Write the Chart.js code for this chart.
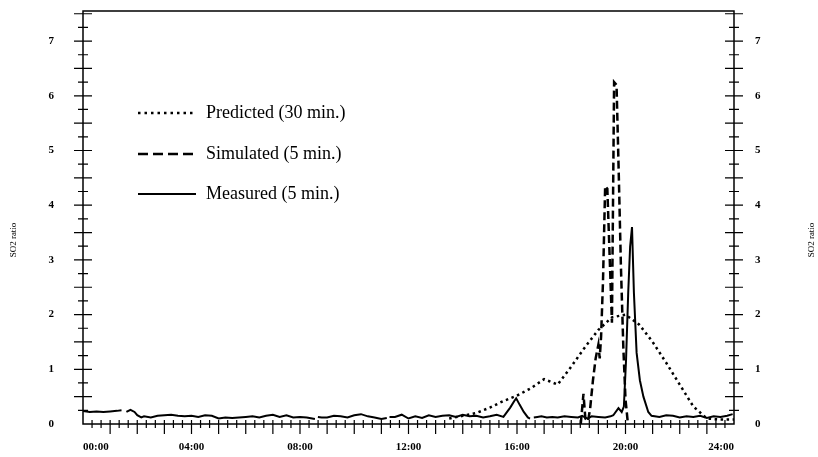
<!DOCTYPE html>
<html>
<head>
<meta charset="utf-8">
<script src="https://cdn.jsdelivr.net/npm/chart.js@4"></script>
<style>
  html, body { margin: 0; padding: 0; background: #fff; }
</style>
</head>
<body>
<canvas id="myChart" width="818" height="457"></canvas>
<script>
const xTickHours = [0, 4, 8, 12, 16, 20, 24];
const yTickValues = [0, 1, 2, 3, 4, 5, 6, 7];

const predictedHours = [13.5, 14, 14.5, 15, 15.5, 16, 16.5, 17, 17.5, 18, 18.5, 19, 19.5, 20, 20.5, 21, 21.5, 22, 22.5, 23, 23.5, 24];
const predictedRatio = [0.1, 0.15, 0.2, 0.3, 0.42, 0.52, 0.65, 0.82, 0.72, 1.05, 1.4, 1.72, 1.95, 2.0, 1.82, 1.5, 1.12, 0.72, 0.32, 0.1, 0.08, 0.08];

const simulatedHours = [18.35, 18.45, 18.52, 18.62, 18.7, 18.8, 18.9, 19.0, 19.05, 19.1, 19.17, 19.25, 19.33, 19.42, 19.5, 19.58, 19.67, 19.75, 19.83, 19.92, 20.0, 20.08, 20.15];
const simulatedRatio = [0, 0.55, 0.1, 0.05, 0.3, 0.8, 1.2, 1.45, 1.2, 1.6, 2.6, 4.35, 4.3, 3.0, 1.85, 6.25, 6.2, 4.6, 2.9, 1.4, 0.45, 0.05, 0];

const measuredHours = [
    0, 0.25, 0.5, 0.75, 1.0, 1.25, 1.42, 1.5, 1.6, 1.75, 1.9, 2.0, 2.15, 2.25, 2.5, 2.75,
    3.0, 3.25, 3.5, 3.75, 4.0, 4.25, 4.5, 4.75, 5.0, 5.25, 5.5, 5.75, 6.0, 6.25, 6.5, 6.75,
    7.0, 7.25, 7.5, 7.75, 8.0, 8.25, 8.55, 8.6, 8.66, 8.8, 9.0, 9.25, 9.5, 9.75, 10.0, 10.25, 10.5,
    10.75, 11.0, 11.2, 11.25, 11.3, 11.5, 11.75, 12.0, 12.25, 12.5, 12.75, 13.0, 13.25, 13.5, 13.75, 14.0,
    14.25, 14.5, 14.75, 15.0, 15.25, 15.5, 15.6, 15.75, 15.9, 15.97, 16.1, 16.25, 16.4, 16.48,
    16.55, 16.62, 16.75, 16.9, 17.1, 17.3, 17.5, 17.75, 18.0, 18.25, 18.4, 18.6, 18.75, 19.0, 19.25,
    19.45, 19.55, 19.74, 19.86, 19.94, 20.02, 20.1, 20.17, 20.24, 20.31, 20.41, 20.53, 20.66,
    20.84, 20.96, 21.25, 21.5, 21.75, 22.0, 22.25, 22.5, 22.75, 23.0, 23.25, 23.5, 23.75, 23.95
];
const measuredRatio = [
    0.24, 0.22, 0.23, 0.22, 0.23, 0.24, 0.25, null, 0.22, 0.26, 0.22, 0.16, 0.12, 0.14, 0.12, 0.15,
    0.16, 0.17, 0.15, 0.14, 0.15, 0.13, 0.16, 0.15, 0.1, 0.12, 0.11, 0.12, 0.13, 0.14, 0.12, 0.15,
    0.17, 0.13, 0.16, 0.12, 0.13, 0.12, 0.09, null, 0.13, 0.12, 0.12, 0.15, 0.14, 0.12, 0.16, 0.18, 0.14,
    0.12, 0.09, 0.11, null, 0.13, 0.13, 0.17, 0.1, 0.14, 0.11, 0.16, 0.13, 0.15, 0.16, 0.13, 0.17,
    0.14, 0.15, 0.12, 0.14, 0.17, 0.13, 0.2, 0.3, 0.42, 0.47, 0.35, 0.22, 0.12, 0.1,
    null, 0.12, 0.13, 0.14, 0.12, 0.13, 0.12, 0.14, 0.13, 0.12, 0.15, 0.1, 0.14, 0.13, 0.12,
    0.14, 0.16, 0.29, 0.22, 0.32, 1.17, 2.4, 3.24, 3.6, 2.4, 1.3, 0.8, 0.5,
    0.22, 0.15, 0.13, 0.16, 0.15, 0.12, 0.14, 0.13, 0.15, 0.11, 0.14, 0.13, 0.15, 0.18
];

const toPoints = (hours, values) => hours.map((h, i) => ({ x: h, y: values[i] }));

const serif = "'Liberation Serif', 'Times New Roman', serif";
const tickFont = { family: serif, size: 11, weight: 'bold' };

const legendRows = [
    { label: 'Predicted (30 min.)', y: 113 },
    { label: 'Simulated (5 min.)', y: 154 },
    { label: 'Measured (5 min.)', y: 194 }
];

// fixed axis box sizes, without the label padding pushing the plot area in
const fixSize = (w, h) => s => {
    if (w !== null) s.width = w;
    if (h !== null) s.height = h;
    s.paddingTop = 0;
    s.paddingBottom = 0;
    s.paddingLeft = 0;
    s.paddingRight = 0;
};

// frame, crossing tick marks, axis titles and the in-plot legend
const decorations = {
    id: 'decorations',
    afterDatasetsDraw(chart) {
        const ctx = chart.ctx;
        const a = chart.chartArea;
        const xs = chart.scales.x, ys = chart.scales.y;
        ctx.save();
        ctx.strokeStyle = '#000';
        ctx.lineWidth = 1.5;
        ctx.strokeRect(a.left, a.top, a.right - a.left, a.bottom - a.top);

        ctx.lineWidth = 1.2;
        ctx.beginPath();
        for (let v = 0.25; v < ys.max; v += 0.25) {
            const py = ys.getPixelForValue(v);
            const half = (v % 0.5 === 0) ? 9 : 5;
            [a.left, a.right].forEach(px => {
                ctx.moveTo(px - half, py);
                ctx.lineTo(px + half, py);
            });
        }
        for (let m = 20; m < 24 * 60; m += 20) {
            const px = xs.getPixelForValue(m / 60);
            ctx.moveTo(px, a.bottom - 4);
            ctx.lineTo(px, a.bottom + (m % 60 === 0 ? 10 : 4));
        }
        ctx.stroke();

        // axis titles
        ctx.fillStyle = '#000';
        ctx.font = '9px ' + serif;
        ctx.textAlign = 'center';
        ctx.textBaseline = 'middle';
        [14, 812].forEach(tx => {
            ctx.save();
            ctx.translate(tx, 240);
            ctx.rotate(-Math.PI / 2);
            ctx.fillText('SO2 ratio', 0, 0);
            ctx.restore();
        });

        // legend
        ctx.font = '18px ' + serif;
        ctx.textAlign = 'left';
        legendRows.forEach((row, i) => {
            const ds = chart.data.datasets[i];
            ctx.save();
            ctx.lineWidth = ds.borderWidth;
            ctx.setLineDash(i === 0 ? [2.5, 4] : i === 1 ? [10, 5] : []);
            ctx.beginPath();
            ctx.moveTo(138, row.y);
            ctx.lineTo(196, row.y);
            ctx.stroke();
            ctx.restore();
            ctx.fillText(row.label, 206, row.y);
        });
        ctx.restore();
    }
};

const config = {
    type: 'line',
    data: {
        datasets: [
            {
                label: 'Predicted (30 min.)',
                data: toPoints(predictedHours, predictedRatio),
                borderColor: '#000',
                borderWidth: 2.5,
                borderDash: [2.5, 3.5],
                pointRadius: 0,
                tension: 0
            },
            {
                label: 'Simulated (5 min.)',
                data: toPoints(simulatedHours, simulatedRatio),
                borderColor: '#000',
                borderWidth: 2.5,
                borderDash: [8, 4],
                pointRadius: 0,
                tension: 0
            },
            {
                label: 'Measured (5 min.)',
                data: toPoints(measuredHours, measuredRatio),
                borderColor: '#000',
                borderWidth: 2,
                pointRadius: 0,
                tension: 0,
                spanGaps: false
            }
        ]
    },
    options: {
        responsive: false,
        animation: false,
        layout: { padding: { top: 11, left: 0, right: 0, bottom: 0 } },
        scales: {
            x: {
                type: 'linear',
                min: 0,
                max: 24,
                afterFit: fixSize(null, 33),
                afterBuildTicks(s) { s.ticks = xTickHours.map(v => ({ value: v })); },
                grid: { display: false, drawTicks: false },
                border: { display: false },
                ticks: {
                    autoSkip: false,
                    maxRotation: 0,
                    align: 'inner',
                    padding: 17,
                    color: '#000',
                    font: tickFont,
                    callback: v => String(v).padStart(2, '0') + ':00'
                }
            },
            y: {
                min: 0,
                max: 7.55,
                afterFit: fixSize(83, null),
                afterBuildTicks(s) { s.ticks = yTickValues.map(v => ({ value: v })); },
                grid: { display: false, drawTicks: false },
                border: { display: false },
                ticks: { padding: 29, color: '#000', font: tickFont }
            },
            y2: {
                position: 'right',
                min: 0,
                max: 7.55,
                afterFit: fixSize(84, null),
                afterBuildTicks(s) { s.ticks = yTickValues.map(v => ({ value: v })); },
                grid: { display: false, drawTicks: false },
                border: { display: false },
                ticks: { padding: 21, color: '#000', font: tickFont }
            }
        },
        plugins: {
            legend: { display: false },
            tooltip: { enabled: false }
        }
    },
    plugins: [decorations]
};

const myChart = new Chart(document.getElementById('myChart'), config);
</script>
</body>
</html>
